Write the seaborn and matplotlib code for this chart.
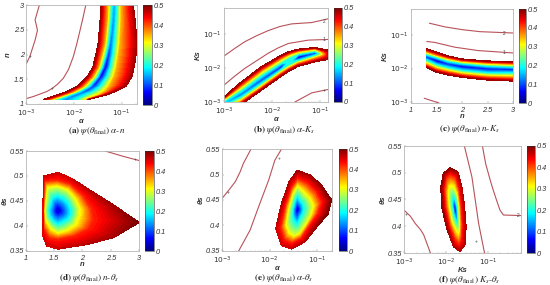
# %% Imports
import numpy as np
import pandas as pd
import seaborn as sns
import matplotlib
matplotlib.use("Agg")
import matplotlib.pyplot as plt

# %% Data (log axes are kept as log10 exponents)
# band panels: every row is one station, columns run across the band
# through psi = edge, 0.35, 0.2, valley, 0.2, 0.35, edge
a_n = [3.0, 2.7, 2.23, 2.0, 1.75, 1.55, 1.36, 1.25, 1.18, 1.09]
a_alpha = [
    [-1.43, -1.30, -1.22, -1.16, -1.09, -1.00, -0.76],
    [-1.45, -1.31, -1.24, -1.17, -1.10, -1.00, -0.72],
    [-1.49, -1.36, -1.29, -1.23, -1.14, -1.02, -0.68],
    [-1.54, -1.42, -1.34, -1.28, -1.17, -1.05, -0.70],
    [-1.60, -1.49, -1.42, -1.34, -1.22, -1.09, -0.74],
    [-1.72, -1.61, -1.52, -1.44, -1.29, -1.14, -0.79],
    [-1.93, -1.80, -1.70, -1.59, -1.42, -1.24, -0.91],
    [-2.15, -2.01, -1.91, -1.77, -1.56, -1.33, -1.14],
    [-2.36, -2.22, -2.11, -1.98, -1.73, -1.45, -1.33],
    [-2.64, -2.50, -2.36, -2.18, -1.91, -1.72, -1.70],
]
a_vale = [0.13, 0.12, 0.10, 0.06, 0.03, 0.03, 0.06, 0.08, 0.10, 0.12]

b_alpha = [-3.00, -2.64, -2.22, -1.80, -1.64, -1.45, -1.10, -0.83]
b_ks = [
    [-3.35, -3.23, -3.13, -3.05, -2.97, -2.91, -2.85],
    [-3.07, -2.98, -2.88, -2.78, -2.65, -2.53, -2.41],
    [-2.65, -2.57, -2.48, -2.36, -2.21, -2.08, -1.96],
    [-2.23, -2.14, -2.06, -1.96, -1.83, -1.71, -1.61],
    [-2.08, -2.00, -1.92, -1.82, -1.69, -1.59, -1.51],
    [-1.94, -1.86, -1.79, -1.68, -1.58, -1.50, -1.44],
    [-1.81, -1.71, -1.64, -1.56, -1.49, -1.43, -1.39],
    [-1.74, -1.68, -1.63, -1.59, -1.55, -1.51, -1.47],
]
b_vale = [0.14, 0.10, 0.08, 0.04, 0.20, 0.02, 0.07, 0.45]

c_n = [1.3, 1.5, 1.73, 2.0, 2.5, 3.0]
c_ks = [
    [-1.97, -1.88, -1.77, -1.66, -1.57, -1.50, -1.42],
    [-2.11, -2.01, -1.91, -1.77, -1.66, -1.60, -1.52],
    [-2.19, -2.09, -2.00, -1.87, -1.77, -1.70, -1.63],
    [-2.26, -2.17, -2.08, -1.94, -1.84, -1.78, -1.72],
    [-2.34, -2.24, -2.15, -2.01, -1.91, -1.84, -1.78],
    [-2.37, -2.26, -2.15, -2.03, -1.94, -1.87, -1.80],
]
c_vale = [0.07, 0.02, 0.06, 0.04, 0.05, 0.06]

# blob panels: rings of iso-psi points around the minimum
psi_aneis = [0.47, 0.42, 0.3, 0.19, 0.02]

d_n = [
    [1.31, 1.57, 1.81, 2.14, 2.55, 3.00, 2.55, 2.08, 1.57, 1.37, 1.30, 1.30],
    [1.32, 1.56, 1.79, 2.02, 2.17, 2.20, 2.11, 1.87, 1.56, 1.40, 1.31, 1.30],
    [1.37, 1.56, 1.75, 1.87, 1.95, 1.93, 1.87, 1.72, 1.56, 1.43, 1.34, 1.32],
    [1.46, 1.56, 1.68, 1.75, 1.80, 1.80, 1.75, 1.66, 1.56, 1.47, 1.41, 1.39],
]
d_theta = [
    [.500, .507, .495, .471, .442, .407, .377, .363, .354, .360, .379, .431],
    [.491, .493, .485, .462, .435, .412, .393, .379, .372, .375, .392, .431],
    [.477, .480, .472, .455, .435, .419, .402, .391, .385, .395, .412, .431],
    [.457, .462, .455, .447, .434, .422, .413, .407, .402, .409, .419, .431],
]
d_centro = (1.56, 0.431)
d_borda = [.46, .46, .46, .47, .48, .50, .48, .47, .46, .46, .45, .44]

e_alpha = [
    [-1.42, -1.15, -0.91, -0.70, -0.77, -1.01, -1.26, -1.54, -1.75, -1.87, -1.75, -1.59],
    [-1.42, -1.20, -1.01, -0.90, -0.98, -1.15, -1.33, -1.54, -1.70, -1.78, -1.68, -1.55],
    [-1.42, -1.28, -1.15, -1.08, -1.13, -1.24, -1.36, -1.48, -1.59, -1.66, -1.61, -1.52],
    [-1.42, -1.36, -1.30, -1.27, -1.30, -1.35, -1.39, -1.43, -1.48, -1.52, -1.52, -1.47],
]
e_theta = [
    [.508, .499, .479, .450, .423, .397, .368, .354, .361, .394, .443, .486],
    [.494, .484, .466, .446, .423, .400, .374, .364, .372, .396, .440, .476],
    [.479, .466, .453, .437, .420, .400, .384, .379, .385, .400, .433, .463],
    [.460, .451, .443, .433, .422, .414, .405, .402, .407, .416, .433, .450],
]
e_centro = (-1.42, 0.431)
e_borda = [.48, .48, .49, .50, .50, .49, .47, .46, .46, .46, .47, .47]

f_ks = [
    [-1.90, -1.71, -1.62, -1.56, -1.52, -1.55, -1.67, -1.82, -1.98, -2.10, -2.12, -2.06],
    [-1.90, -1.76, -1.68, -1.63, -1.60, -1.62, -1.68, -1.79, -1.92, -2.02, -2.05, -2.00],
    [-1.87, -1.79, -1.72, -1.68, -1.67, -1.67, -1.71, -1.78, -1.86, -1.93, -1.95, -1.94],
    [-1.82, -1.78, -1.74, -1.72, -1.71, -1.71, -1.74, -1.78, -1.82, -1.84, -1.86, -1.84],
]
f_theta = [
    [.509, .501, .473, .439, .399, .365, .353, .362, .396, .436, .473, .499],
    [.498, .492, .470, .439, .402, .375, .364, .373, .399, .436, .470, .492],
    [.476, .472, .458, .436, .408, .393, .385, .394, .408, .436, .458, .471],
    [.455, .452, .442, .432, .418, .410, .407, .412, .421, .432, .442, .450],
]
f_centro = (-1.78, 0.432)
f_borda = [.49, .48, .47, .47, .47, .47, .47, .47, .48, .49, .49, .49]

# brown iso-lines: (x values, y values)
a_linhas = [
    ([-2.99, -2.85, -2.71, -2.57, -2.46, -2.34, -2.22, -2.11, -2.01, -1.94, -1.87, -1.80, -1.75],
     [1.11, 1.15, 1.20, 1.25, 1.31, 1.40, 1.52, 1.70, 1.96, 2.21, 2.49, 2.78, 3.0]),
    ([-2.99, -2.92, -2.81, -2.76, -2.81, -2.72], [1.82, 1.96, 2.29, 2.49, 2.70, 3.0]),
]
b_linhas = [
    ([-3.0, -2.78, -2.57, -2.32, -2.08, -1.84, -1.59, -1.17, -0.83],
     [-1.64, -1.42, -1.22, -1.04, -0.89, -0.77, -0.69, -0.65, -0.54]),
    ([-3.0, -2.78, -2.57, -2.32, -2.08, -1.87, -1.66, -1.24, -0.83],
     [-2.50, -2.24, -2.01, -1.78, -1.56, -1.40, -1.27, -1.17, -1.15]),
    ([-1.52, -1.17, -0.83], [-3.0, -2.73, -2.63]),
]
c_linhas = [
    ([1.36, 1.67, 2.0, 2.35, 3.0], [-0.66, -0.77, -0.85, -0.91, -0.95]),
    ([1.31, 1.47, 1.86, 2.32, 3.0], [-1.20, -1.23, -1.37, -1.47, -1.54]),
    ([1.26, 1.55], [-2.88, -3.02]),
]
d_linhas = [([2.40, 2.73, 3.0], [.55, .539, .531])]
e_linhas = [
    ([-3.0, -2.86, -2.72, -2.62, -2.55, -2.39], [.453, .469, .486, .505, .522, .55]),
    ([-2.65, -2.41, -2.23, -2.02, -1.89, -1.75], [.35, .391, .437, .489, .528, .55]),
]
f_linhas = [
    ([-3.0, -2.85, -2.73, -2.61, -2.53, -2.37], [.43, .419, .405, .394, .384, .35]),
    ([-1.56, -1.38, -1.22, -1.08], [.55, .492, .405, .35]),
    ([-1.13, -1.05, -0.94, -0.87, -0.79, -0.71, -0.63, -0.21],
     [.55, .516, .485, .467, .448, .43, .421, .42]),
]

# contour labels: (x, y, text)
a_rotulos = [(-2.92, 1.96, "+"), (-2.46, 1.31, "+")]
b_rotulos = [(-0.90, -0.62, "2"), (-0.91, -1.15, "1"), (-0.90, -2.65, "+")]
c_rotulos = [(2.82, -0.95, "2"), (2.82, -1.54, "1")]
d_rotulos = [(2.93, .533, "+")]
e_rotulos = [(-2.88, .465, "+"), (-1.80, .532, "+")]
f_rotulos = [(-2.94, .422, "+"), (-1.27, .371, "+"), (-0.28, .42, "2")]

psi_ticks = [0, 0.1, 0.2, 0.3, 0.4, 0.5]
n_ticks = [1, 1.5, 2, 2.5, 3]
n_labels = ["1", "1.5", "2", "2.5", "3"]
theta_ticks = [0.35, 0.4, 0.45, 0.5, 0.55]
theta_labels = ["0.35", "0.4", "0.45", "0.5", "0.55"]

# %% Style
sns.set_theme(style="white")
plt.rcParams["font.family"] = ["Liberation Sans", "DejaVu Sans"]
plt.rcParams["mathtext.fontset"] = "stix"

LARGURA, ALTURA = 550, 285
COR_LINHA = "#b8525a"
COR_TEXTO = "#333333"
# seaborn refuses the name "jet", so the same ramp is blended by hand
JET = sns.blend_palette(["#00007f", "#0000ff", "#0080ff", "#00ffff", "#80ff80",
                         "#ffff00", "#ff8000", "#ff0000", "#7f0000"],
                        n_colors=256, as_cmap=True)
NIVEIS = np.linspace(0, 0.5, 65)

fig = plt.figure(figsize=(LARGURA / 100, ALTURA / 100), dpi=100)


def eixo_px(x0, x1, y0, y1):
    """Creates an axes from pixel edges (y measured from the top)."""
    return fig.add_axes([x0 / LARGURA, 1 - y1 / ALTURA, (x1 - x0) / LARGURA, (y1 - y0) / ALTURA])


def malha_banda(pos, cruz, vale, horizontal):
    """Builds the curvilinear mesh of a band panel."""
    cruz = np.array(cruz)
    pos = np.repeat(np.array(pos)[:, None], cruz.shape[1], axis=1)
    z = np.tile([0.48, 0.35, 0.2, 0.0, 0.2, 0.35, 0.48], (len(cruz), 1))
    z[:, 3] = vale
    z = np.maximum(z, np.array(vale)[:, None])
    return (pos, cruz, z) if horizontal else (cruz, pos, z)


def malha_aneis(xs, ys, centro, borda):
    """Builds the ring mesh of a blob panel, closing each ring."""
    xs = np.array(xs)
    ys = np.array(ys)
    xs = np.vstack([xs, np.full(xs.shape[1], centro[0])])
    ys = np.vstack([ys, np.full(ys.shape[1], centro[1])])
    z = np.repeat(np.array(psi_aneis)[:, None], xs.shape[1], axis=1)
    z[0] = borda
    xs = np.hstack([xs, xs[:, :1]])
    ys = np.hstack([ys, ys[:, :1]])
    z = np.hstack([z, z[:, :1]])
    return xs, ys, z


def ticks_log(ax_lim):
    """Major and minor tick positions of a log axis kept as exponents."""
    baixo, alto = ax_lim
    maiores = [e for e in range(-3, 1) if baixo <= e <= alto]
    menores = []
    for e in range(-3, 1):
        for k in range(2, 10):
            v = e + np.log10(k)
            if baixo <= v <= alto:
                menores.append(v)
    return maiores, menores


def arruma_eixo(ax, nome, lim, ticks, labels, log):
    """Sets limits, ticks and labels for one axis ('x' or 'y')."""
    eixo = ax.xaxis if nome == "x" else ax.yaxis
    (ax.set_xlim if nome == "x" else ax.set_ylim)(*lim)
    if log:
        maiores, menores = ticks_log(lim)
        eixo.set_ticks(maiores)
        eixo.set_ticks(menores, minor=True)
        eixo.set_ticklabels([f"$\\mathit{{10^{{{e}}}}}$" for e in maiores])
    else:
        eixo.set_ticks(ticks)
        eixo.set_ticklabels(labels)


def desenha_painel(caixa, caixa_barra, malha, linhas, rotulos, xcfg, ycfg, xnome, ynome, legenda, pos_legenda):
    ax = eixo_px(*caixa)
    x, y, z = malha
    cs = ax.contourf(x, y, z, levels=NIVEIS, cmap=JET, vmin=0, vmax=0.5)
    cs.set_edgecolor("face")
    cs.set_linewidth(0.2)

    for lx, ly in linhas:
        tabela = pd.DataFrame({"x": lx, "y": ly})
        sns.lineplot(data=tabela, x="x", y="y", ax=ax, sort=False, estimator=None,
                     color=COR_LINHA, linewidth=0.8)
    for rx, ry, txt in rotulos:
        ax.text(rx, ry, txt, fontsize=3.5, color="#444444", ha="center", va="center")

    arruma_eixo(ax, "x", *xcfg)
    arruma_eixo(ax, "y", *ycfg)
    ax.set_xlabel(xnome, fontsize=5.5, style="italic", weight="bold", color=COR_TEXTO, labelpad=-1)
    ax.set_ylabel(ynome, fontsize=5.5, style="italic", weight="bold", color=COR_TEXTO, labelpad=1)
    ax.tick_params(which="major", direction="in", length=1.5, width=0.3, color="#777777",
                   labelsize=5.3, labelcolor=COR_TEXTO, pad=1.5, bottom=True, left=True)
    ax.tick_params(axis="x", which="major", pad=3)
    ax.tick_params(which="minor", direction="in", length=0.8, width=0.2, color="#999999", bottom=True, left=True)
    for rot in ax.get_xticklabels() + ax.get_yticklabels():
        rot.set_style("italic")
        rot.set_math_fontfamily("dejavusans")
    for lado in ax.spines.values():
        lado.set_color("#b5b5b5")
        lado.set_linewidth(0.6)

    # the colour bar always spans the whole 0-0.5 range
    cax = eixo_px(*caixa_barra)
    mapa = plt.cm.ScalarMappable(norm=plt.Normalize(0, 0.5), cmap=JET)
    barra = fig.colorbar(mapa, cax=cax, ticks=psi_ticks)
    barra.ax.set_yticklabels([f"{v:g}" for v in psi_ticks], fontsize=5.3, style="italic", color=COR_TEXTO)
    barra.ax.tick_params(length=0, pad=1.5)
    barra.outline.set_linewidth(0.4)
    barra.outline.set_edgecolor("#333333")

    fig.text(pos_legenda[0] / LARGURA, 1 - pos_legenda[1] / ALTURA, legenda, fontsize=6.6,
             ha="center", va="center", family="Liberation Serif", color="#222222")


def legenda(letra, par):
    return rf"$\mathbf{{({letra})}}\ \psi(\theta_{{\mathrm{{final}}}})\ {par}$"


# %% Panels
desenha_painel((26, 137, 5, 104), (143, 152, 5, 105),
               malha_banda(a_n, a_alpha, a_vale, False), a_linhas, a_rotulos,
               ((-3, -0.68), None, None, True), ((1, 3), n_ticks, n_labels, False),
               "α", "n", legenda("a", r"\alpha\text{-}n"), (97, 131))

desenha_painel((224, 328, 8, 102), (334, 342, 8, 102),
               malha_banda(b_alpha, b_ks, b_vale, True), b_linhas, b_rotulos,
               ((-3, -0.83), None, None, True), ((-3, -0.22), None, None, True),
               "α", "Ks", legenda("b", r"\alpha\text{-}K_s"), (284, 130))

desenha_painel((411, 513, 9, 103), (519, 526, 9, 103),
               malha_banda(c_n, c_ks, c_vale, True), c_linhas, c_rotulos,
               ((1, 3), n_ticks, n_labels, False), ((-3.02, -0.24), None, None, True),
               "n", "Ks", legenda("c", r"n\text{-}K_s"), (469, 129))

desenha_painel((26, 139, 151, 251), (145, 154, 151, 251),
               malha_aneis(d_n, d_theta, d_centro, d_borda), d_linhas, d_rotulos,
               ((1, 3), n_ticks, n_labels, False), ((0.35, 0.55), theta_ticks, theta_labels, False),
               "n", "θs", legenda("d", r"n\text{-}\theta_s"), (89, 278))

desenha_painel((222, 332, 149, 251), (339, 347, 149, 251),
               malha_aneis(e_alpha, e_theta, e_centro, e_borda), e_linhas, e_rotulos,
               ((-3, -0.69), None, None, True), ((0.35, 0.55), theta_ticks, theta_labels, False),
               "α", "θs", legenda("e", r"\alpha\text{-}\theta_s"), (284, 278))

desenha_painel((404, 521, 146, 253), (527, 535, 146, 253),
               malha_aneis(f_ks, f_theta, f_centro, f_borda), f_linhas, f_rotulos,
               ((-3, -0.21), None, None, True), ((0.35, 0.55), theta_ticks, theta_labels, False),
               "Ks", "θs", legenda("f", r"K_s\text{-}\theta_s"), (469, 280))

# %% Save
fig.savefig("out.png", dpi=100)
